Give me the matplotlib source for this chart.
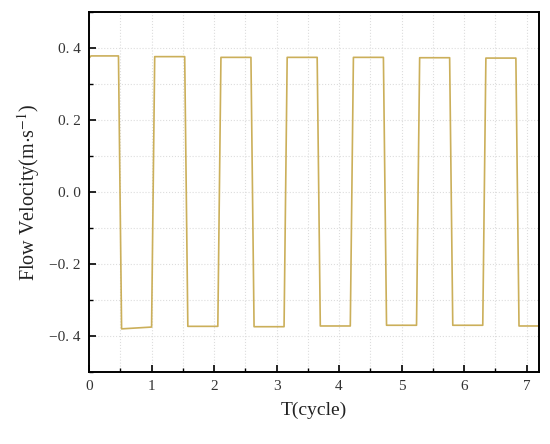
import numpy as np
import matplotlib
matplotlib.use('Agg')
import matplotlib.pyplot as plt
from matplotlib.ticker import MultipleLocator, FuncFormatter

plt.rcParams['font.family'] = ['Liberation Serif', 'DejaVu Serif']
plt.rcParams['mathtext.fontset'] = 'stix'

t_cycle = [0.0, 0.03, 0.05, 0.47, 0.52, 1.00, 1.05, 1.53, 1.58, 2.06, 2.11, 2.59,
           2.64, 3.12, 3.17, 3.65, 3.70, 4.18, 4.23, 4.71, 4.76, 5.24, 5.29, 5.77,
           5.82, 6.30, 6.35, 6.83, 6.88, 7.20]
velocity = [0.372, 0.378, 0.378, 0.378, -0.380, -0.375, 0.376, 0.376, -0.373, -0.373,
            0.374, 0.374, -0.374, -0.374, 0.374, 0.374, -0.372, -0.372, 0.374, 0.374,
            -0.370, -0.370, 0.373, 0.373, -0.370, -0.370, 0.372, 0.372, -0.372, -0.372]

fig = plt.figure(figsize=(5.5, 4.44), dpi=100)
ax = fig.add_axes([0.162, 0.162, 0.818, 0.811])

ax.plot(t_cycle, velocity, color='#CBAF5A', lw=1.2)

ax.set_xlim(0, 7.2)
ax.set_ylim(-0.5, 0.5)
ax.xaxis.set_major_locator(MultipleLocator(1))
ax.xaxis.set_minor_locator(MultipleLocator(0.5))
ax.yaxis.set_major_locator(MultipleLocator(0.2))
ax.yaxis.set_minor_locator(MultipleLocator(0.1))

def yfmt(v, pos):
    s = '%.1f' % v
    if s == '-0.0':
        s = '0.0'
    return s.replace('.', '. ').replace('-', '\u2212')

ax.yaxis.set_major_formatter(FuncFormatter(yfmt))
ax.xaxis.set_major_formatter(FuncFormatter(lambda v, p: '%d' % v))

ax.tick_params(which='major', direction='in', length=5, width=1.2, labelsize=11,
               labelcolor='#333333', pad=6)
ax.tick_params(which='minor', direction='in', length=3, width=1.0)
ax.grid(True, which='both', color='#dddddd', ls=':', lw=0.8)
for sp in ax.spines.values():
    sp.set_linewidth(1.4)

ax.set_xlabel('T(cycle)', fontsize=14, color='#222222', labelpad=6)
ax.set_ylabel('Flow Velocity(m$\\cdot$s$^{-1}$)', fontsize=14.5, color='#222222', labelpad=5)

fig.savefig('out.png', dpi=100)
